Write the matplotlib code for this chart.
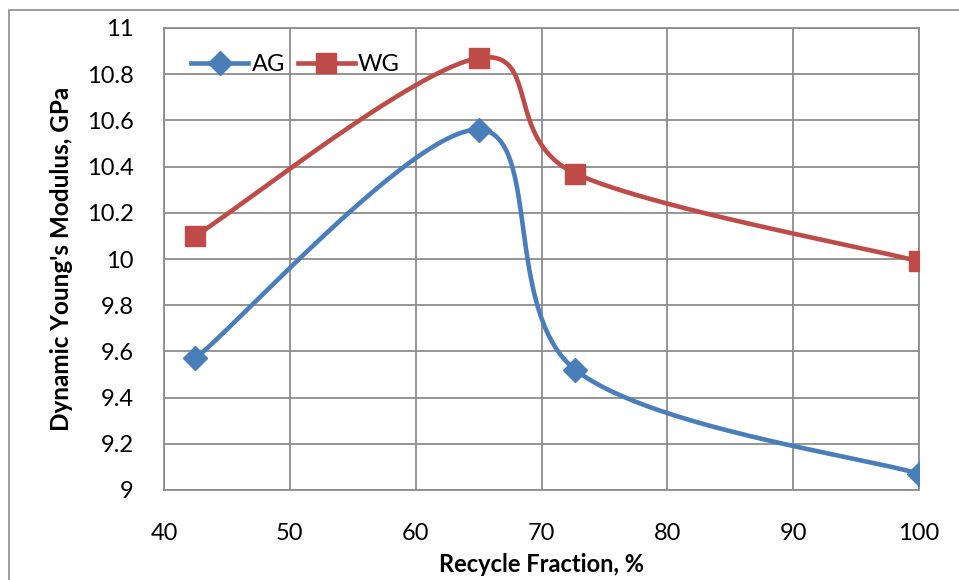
import numpy as np
import matplotlib.pyplot as plt
from matplotlib.patches import Rectangle

# data
recycle = [42.5, 65.0, 72.7, 100.0]
ag_gpa = [9.57, 10.56, 9.52, 9.07]
wg_gpa = [10.10, 10.87, 10.37, 9.99]
x_ticks = [40, 50, 60, 70, 80, 90, 100]
y_ticks = [9.0, 9.2, 9.4, 9.6, 9.8, 10.0, 10.2, 10.4, 10.6, 10.8, 11.0]
y_tick_labels = ["9", "9.2", "9.4", "9.6", "9.8", "10", "10.2", "10.4", "10.6", "10.8", "11"]

plt.rcParams["font.family"] = ["Lato", "DejaVu Sans"]

BLUE = "#4A7EBB"
RED = "#BE4B48"
GRID = "#8C8C8C"


def excel_smooth(ax, xs, ys, n=60):
    """Excel-style smoothed line: cubic Bezier through the points, tangents (P[i+1]-P[i-1])/6 in screen space."""
    pts = ax.transData.transform(np.column_stack([xs, ys]))
    m = len(pts)
    out = [pts[0]]
    for i in range(m - 1):
        p0, p3 = pts[i], pts[i + 1]
        prev_ = pts[i - 1] if i > 0 else pts[i]
        next_ = pts[i + 2] if i + 2 < m else pts[i + 1]
        p1 = p0 + (p3 - prev_) / 6.0
        p2 = p3 - (next_ - p0) / 6.0
        t = np.linspace(0, 1, n)[1:, None]
        seg = ((1 - t) ** 3) * p0 + 3 * ((1 - t) ** 2) * t * p1 + 3 * (1 - t) * t ** 2 * p2 + t ** 3 * p3
        out.extend(seg)
    out = np.array(out)
    return ax.transData.inverted().transform(out).T


fig = plt.figure(figsize=(9.59, 5.80), dpi=100)
fig.patch.set_facecolor("white")
fig.patches.append(Rectangle((9 / 959, -0.1), 1.2, 1.1 - 10 / 580, transform=fig.transFigure,
                             fill=False, edgecolor="#8C8C8C", lw=1.2, zorder=0))

ax = fig.add_axes([164 / 959, 90 / 580, 755 / 959, 462 / 580])
ax.set_xlim(40, 100)
ax.set_ylim(9, 11)
ax.set_xticks(x_ticks)
ax.set_yticks(y_ticks)
ax.set_yticklabels(y_tick_labels)
ax.grid(True, color=GRID, lw=1.3)
ax.set_axisbelow(True)
for sp in ax.spines.values():
    sp.set_color(GRID)
    sp.set_linewidth(1.3)
ax.tick_params(length=0, labelsize=17, colors="black")
ax.tick_params(axis="x", pad=24)
ax.tick_params(axis="y", pad=22)

sx, sy = excel_smooth(ax, recycle, ag_gpa)
ax.plot(sx, sy, color=BLUE, lw=3.3, solid_capstyle="round", zorder=3)
ax.plot(recycle, ag_gpa, "D", color=BLUE, ms=12, zorder=4)
sx, sy = excel_smooth(ax, recycle, wg_gpa)
ax.plot(sx, sy, color=RED, lw=3.3, solid_capstyle="round", zorder=3)
ax.plot(recycle, wg_gpa, "s", color=RED, ms=14, zorder=4)

# legend proxies (line + marker)
h_ag, = ax.plot([], [], color=BLUE, lw=3.3, marker="D", ms=12, label="AG")
h_wg, = ax.plot([], [], color=RED, lw=3.3, marker="s", ms=14, label="WG")
ax.legend(handles=[h_ag, h_wg], loc="upper left", ncol=2, frameon=False, fontsize=17,
          bbox_to_anchor=(0.008, 0.99), handlelength=2.4, handletextpad=0.15, columnspacing=0.55)

ax.set_xlabel("Recycle Fraction, %", fontsize=17, fontweight="bold", labelpad=6)
ax.set_ylabel("Dynamic Young's Modulus, GPa", fontsize=17.5, fontweight="bold", labelpad=10)

fig.savefig("out.png", dpi=100)
